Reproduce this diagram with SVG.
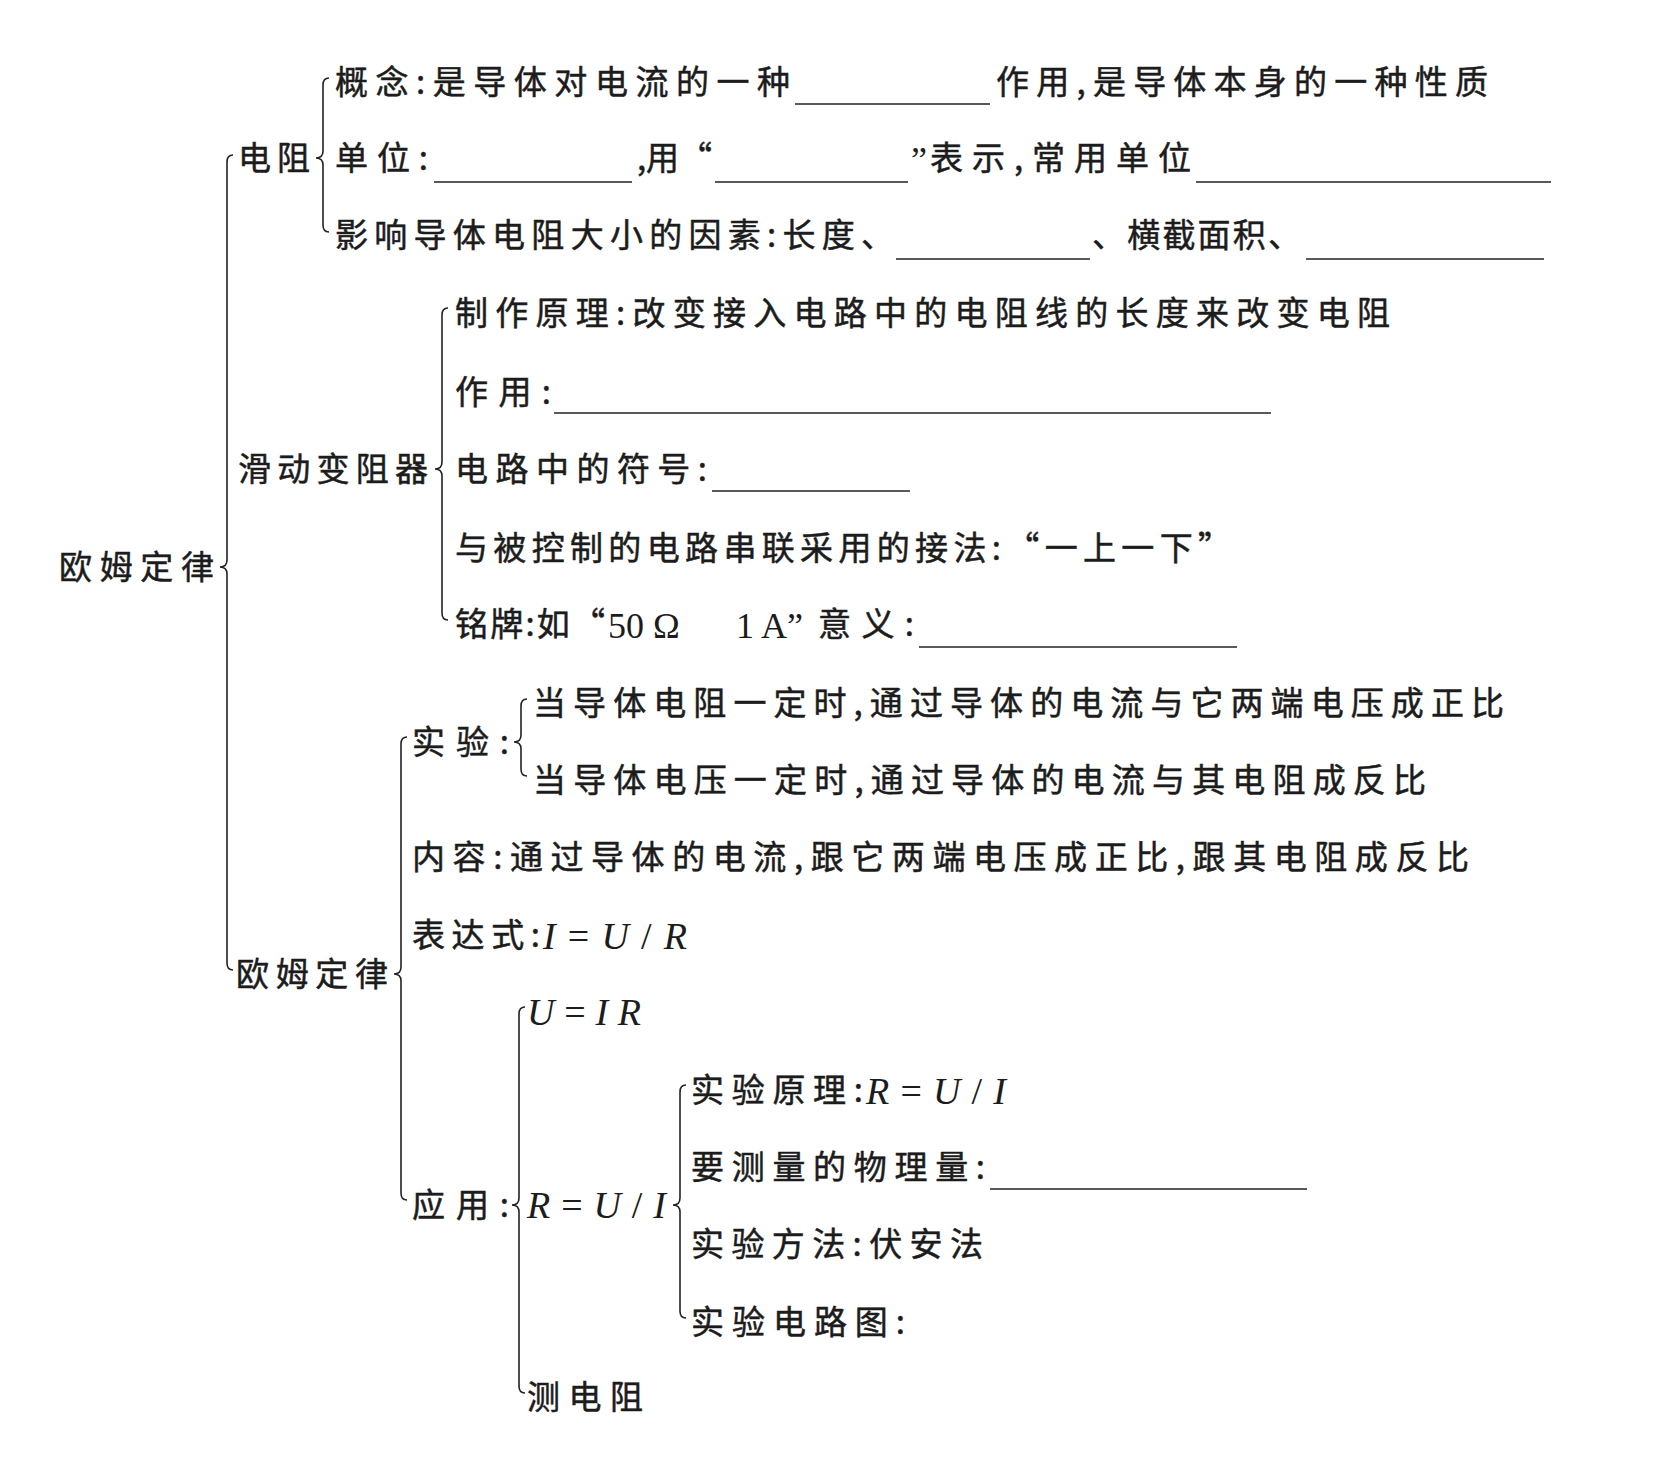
<svg xmlns="http://www.w3.org/2000/svg" width="1679" height="1479" viewBox="0 0 1679 1479">
<style>
.t{font-family:"Noto Sans CJK SC","Liberation Serif",sans-serif;font-size:33px;fill:#1c1c1c;stroke:#1c1c1c;stroke-width:0.5}
.m{font-family:"Liberation Serif",serif;font-style:italic;font-size:38px;fill:#1c1c1c}
.e{font-family:"Liberation Serif",serif;font-style:normal;font-size:38px}
.n{font-family:"Liberation Serif",serif;font-size:36px;stroke-width:0}
.b{fill:none;stroke:#222;stroke-width:1.6}
.u{stroke:#222;stroke-width:1.5}
</style>
<rect width="1679" height="1479" fill="#ffffff"/>
<g id="connectors">
<path class="b" d="M233,155 Q227,155 227,162 L227,560 Q227,567 220,567 Q227,567 227,574 L227,963 Q227,970 233,970"/>
<path class="b" d="M329,78 Q323,78 323,85 L323,151 Q323,158 316,158 Q323,158 323,165 L323,225 Q323,232 329,232"/>
<path class="b" d="M448,308 Q442,308 442,315 L442,462 Q442,469 435,469 Q442,469 442,476 L442,613 Q442,620 448,620"/>
<path class="b" d="M407,737 Q401,737 401,744 L401,967 Q401,974 394,974 Q401,974 401,981 L401,1193 Q401,1200 407,1200"/>
<path class="b" d="M527,699 Q521,699 521,706 L521,735 Q521,742 514,742 Q521,742 521,749 L521,769 Q521,776 527,776"/>
<path class="b" d="M525,1007 Q519,1007 519,1014 L519,1198 Q519,1205 512,1205 Q519,1205 519,1212 L519,1386 Q519,1393 525,1393"/>
<path class="b" d="M686,1085 Q680,1085 680,1092 L680,1198 Q680,1205 673,1205 Q680,1205 680,1212 L680,1311 Q680,1318 686,1318"/>
</g>
<g id="root"><text class="t" x="59" y="579" textLength="155" lengthAdjust="spacing">欧姆定律</text></g>
<g id="dianzu">
<text class="t" x="238" y="170" textLength="72" lengthAdjust="spacing">电阻</text>
</g>
<g id="gainian">
<text class="t" x="335" y="94" textLength="455" lengthAdjust="spacing">概念:是导体对电流的一种</text>
<line class="u" x1="795" y1="104" x2="990" y2="104"/>
<text class="t" x="996" y="94" textLength="492" lengthAdjust="spacing">作用,是导体本身的一种性质</text>
</g>
<g id="danwei">
<text class="t" x="335" y="170" textLength="93" lengthAdjust="spacing">单位:</text>
<line class="u" x1="434" y1="182" x2="632" y2="182"/>
<text class="t" x="637" y="170" textLength="75" lengthAdjust="spacing">,用“</text>
<line class="u" x1="715" y1="182" x2="908" y2="182"/>
<text class="t n" x="911" y="172">”</text>
<text class="t" x="930" y="170" textLength="261" lengthAdjust="spacing">表示,常用单位</text>
<line class="u" x1="1196" y1="182" x2="1551" y2="182"/>
</g>
<g id="yingxiang">
<text class="t" x="335" y="247" textLength="559" lengthAdjust="spacing">影响导体电阻大小的因素:长度、</text>
<line class="u" x1="896" y1="259" x2="1090" y2="259"/>
<text class="t" x="1092" y="247" textLength="209" lengthAdjust="spacing">、横截面积、</text>
<line class="u" x1="1306" y1="259" x2="1544" y2="259"/>
</g>
<g id="huadong">
<text class="t" x="238" y="481" textLength="190" lengthAdjust="spacing">滑动变阻器</text>
</g>
<g id="zhizuo"><text class="t" x="455" y="325" textLength="935" lengthAdjust="spacing">制作原理:改变接入电路中的电阻线的长度来改变电阻</text></g>
<g id="zuoyong">
<text class="t" x="455" y="404" textLength="96" lengthAdjust="spacing">作用:</text>
<line class="u" x1="554" y1="413" x2="1271" y2="413"/>
</g>
<g id="fuhao">
<text class="t" x="455" y="481" textLength="252" lengthAdjust="spacing">电路中的符号:</text>
<line class="u" x1="712" y1="491" x2="910" y2="491"/>
</g>
<g id="jiefa"><text class="t" x="455" y="560" textLength="776" lengthAdjust="spacing">与被控制的电路串联采用的接法:“一上一下”</text></g>
<g id="mingpai">
<text class="t" x="455" y="636" textLength="150" lengthAdjust="spacing">铭牌:如“</text>
<text class="t n" x="608" y="638">50 Ω</text>
<text class="t n" x="736" y="638">1 A”</text>
<text class="t" x="818" y="636" textLength="96" lengthAdjust="spacing">意义:</text>
<line class="u" x1="919" y1="647" x2="1237" y2="647"/>
</g>
<g id="oumu2"><text class="t" x="236" y="986" textLength="152" lengthAdjust="spacing">欧姆定律</text></g>
<g id="shiyan"><text class="t" x="412" y="754" textLength="97" lengthAdjust="spacing">实验:</text></g>
<g id="shiyan1"><text class="t" x="533" y="715" textLength="971" lengthAdjust="spacing">当导体电阻一定时,通过导体的电流与它两端电压成正比</text></g>
<g id="shiyan2"><text class="t" x="533" y="792" textLength="893" lengthAdjust="spacing">当导体电压一定时,通过导体的电流与其电阻成反比</text></g>
<g id="neirong"><text class="t" x="412" y="869" textLength="1057" lengthAdjust="spacing">内容:通过导体的电流,跟它两端电压成正比,跟其电阻成反比</text></g>
<g id="biaodashi">
<text class="t" x="412" y="947" textLength="128" lengthAdjust="spacing">表达式:</text>
<text class="m" x="543" y="949" textLength="144" lengthAdjust="spacing">I<tspan class="e">=</tspan>U<tspan class="e">/</tspan>R</text>
</g>
<g id="yingyong"><text class="t" x="412" y="1217" textLength="97" lengthAdjust="spacing">应用:</text></g>
<g id="uir"><text class="m" x="527" y="1025" textLength="114" lengthAdjust="spacing">U<tspan class="e">=</tspan>IR</text></g>
<g id="rui"><text class="m" x="527" y="1218" textLength="139" lengthAdjust="spacing">R<tspan class="e">=</tspan>U<tspan class="e">/</tspan>I</text></g>
<g id="yuanli">
<text class="t" x="691" y="1102" textLength="172" lengthAdjust="spacing">实验原理:</text>
<text class="m" x="866" y="1104" textLength="140" lengthAdjust="spacing">R<tspan class="e">=</tspan>U<tspan class="e">/</tspan>I</text>
</g>
<g id="celiang">
<text class="t" x="691" y="1179" textLength="294" lengthAdjust="spacing">要测量的物理量:</text>
<line class="u" x1="990" y1="1189" x2="1307" y2="1189"/>
</g>
<g id="fangfa"><text class="t" x="691" y="1256" textLength="292" lengthAdjust="spacing">实验方法:伏安法</text></g>
<g id="dianlutu"><text class="t" x="691" y="1334" textLength="214" lengthAdjust="spacing">实验电路图:</text></g>
<g id="cedianzu"><text class="t" x="527" y="1409" textLength="116" lengthAdjust="spacing">测电阻</text></g>
</svg>
